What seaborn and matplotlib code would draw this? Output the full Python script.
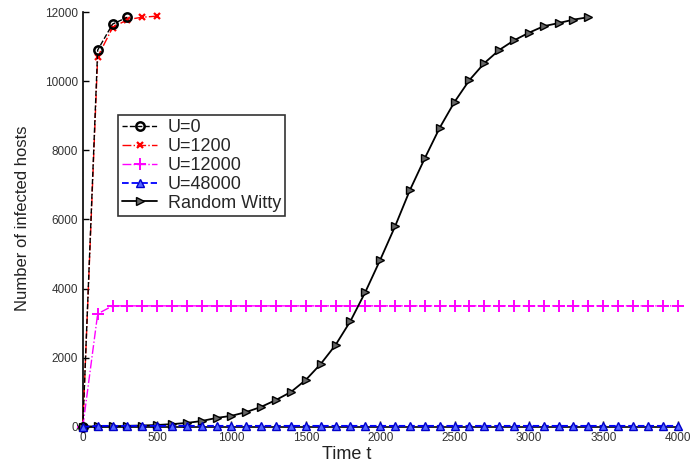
import numpy as np
import pandas as pd
import matplotlib
matplotlib.use("Agg")
import matplotlib.pyplot as plt
import seaborn as sns

# Data
t_u0 = [0, 100, 200, 300]
y_u0 = [0, 10900, 11650, 11850]

t_u1200 = [0, 100, 200, 300, 400, 500]
y_u1200 = [0, 10700, 11550, 11780, 11850, 11880]

t_u12000 = list(range(0, 4001, 100))
y_u12000 = [0, 3270] + [3500] * 39

t_u48000 = list(range(0, 4001, 100))
y_u48000 = [0] + [30] * 40

t_witty = list(range(0, 3401, 100))
y_witty = [10, 15, 20, 30, 40, 55, 80, 115, 170, 260, 320, 430, 580, 780, 1010,
           1360, 1820, 2370, 3060, 3900, 4830, 5800, 6850, 7770, 8650, 9400,
           10030, 10520, 10900, 11180, 11400, 11590, 11680, 11780, 11850]

labels = ["U=0", "U=1200", "U=12000", "U=48000", "Random Witty"]
x_ticks = [0, 500, 1000, 1500, 2000, 2500, 3000, 3500, 4000]
y_ticks = [0, 2000, 4000, 6000, 8000, 10000, 12000]

sns.set_style("white")
plt.rcParams['font.family'] = ['Liberation Sans', 'DejaVu Sans']

fig = plt.figure(figsize=(6.9, 4.62), dpi=100)
ax = fig.add_axes([0.120, 0.076, 0.862, 0.898])

series = [
    (t_u0, y_u0, dict(color='black', ls='--', marker='o', ms=6, mfc='none', mec='black', mew=1.8, lw=1, z=4)),
    (t_u1200, y_u1200, dict(color='red', ls='-.', marker='x', ms=5, mfc='red', mec='red', mew=1.6, lw=1, z=3)),
    (t_u12000, y_u12000, dict(color='#ff00ff', ls='-.', marker='+', ms=8, mfc='#ff00ff', mec='#ff00ff', mew=1.4, lw=1, z=3)),
    (t_u48000, y_u48000, dict(color='blue', ls='--', marker='^', ms=5.5, mfc='#5566ff', mec='#0000cc', mew=1, lw=1.3, z=5)),
    (t_witty, y_witty, dict(color='black', ls='-', marker='>', ms=5.5, mfc='#666666', mec='black', mew=1, lw=1.3, z=4)),
]

for (tx, ty, st), lab in zip(series, labels):
    sns.lineplot(x=tx, y=ty, ax=ax, label=lab, sort=False)
    ln = ax.lines[-1]
    ln.set_color(st['color'])
    ln.set_linestyle(st['ls'])
    ln.set_linewidth(st['lw'])
    ln.set_marker(st['marker'])
    ln.set_markersize(st['ms'])
    ln.set_markerfacecolor(st['mfc'])
    ln.set_markeredgecolor(st['mec'])
    ln.set_markeredgewidth(st['mew'])
    ln.set_zorder(st['z'])
    ln.set_clip_on(False)

ax.set_xlim(0, 4000)
ax.set_ylim(0, 12000)
ax.set_xticks(x_ticks)
ax.set_yticks(y_ticks)
ax.tick_params(direction='in', length=4, width=1, labelsize=8.5, color='black',
               labelcolor='#333333', bottom=True, left=True)
for s in ['top', 'right']:
    ax.spines[s].set_visible(False)
for s in ['left', 'bottom']:
    ax.spines[s].set_color('black')
    ax.spines[s].set_linewidth(1.2)

ax.set_xlabel("Time t", fontsize=13, color='#222222')
ax.xaxis.set_label_coords(0.444, -0.045)
ax.set_ylabel("Number of infected hosts", fontsize=12, color='#222222')
ax.yaxis.set_label_coords(-0.088, 0.504)

if ax.legend_:
    ax.legend_.remove()
handles = ax.lines[:5]
leg = ax.legend(handles, labels, loc='upper left', bbox_to_anchor=(0.059, 0.752), fontsize=13,
                frameon=True, fancybox=False, borderpad=0.25, labelspacing=0.1,
                handlelength=1.9, handletextpad=0.6, borderaxespad=0)
leg.get_frame().set_edgecolor('black')
leg.get_frame().set_linewidth(1.2)
leg.set_zorder(10)

fig.savefig("out.png", dpi=100)
